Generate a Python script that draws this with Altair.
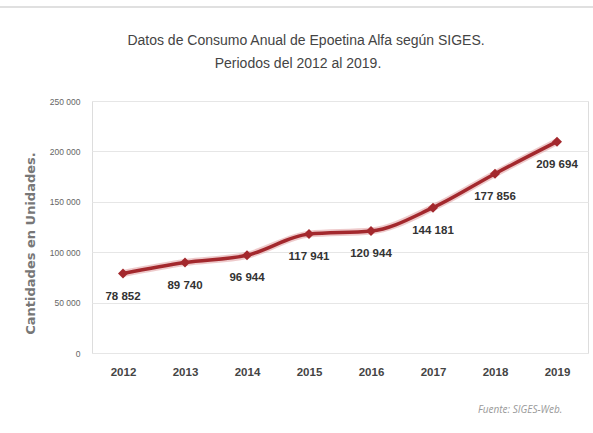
import altair as alt
import pandas as pd

years = ["2012", "2013", "2014", "2015", "2016", "2017", "2018", "2019"]
values = [78852, 89740, 96944, 117941, 120944, 144181, 177856, 209694]
labels = ["78 852", "89 740", "96 944", "117 941", "120 944", "144 181", "177 856", "209 694"]
title_lines = ["Datos de Consumo Anual de Epoetina Alfa según SIGES.", "Periodos del 2012 al 2019."]

df = pd.DataFrame({"year": years, "value": values, "label": labels})

FONT = "Liberation Sans"

x = alt.X("year:O", title=None,
          scale=alt.Scale(type="point", padding=0.5),
          axis=alt.Axis(labelAngle=0, labelFont=FONT, labelFontSize=11.5, labelFontWeight="bold",
                        labelColor="#444444", ticks=False, domain=False, labelPadding=13))
y = alt.Y("value:Q", title="Cantidades en Unidades.",
          scale=alt.Scale(domain=[0, 250000]),
          axis=alt.Axis(values=[0, 50000, 100000, 150000, 200000, 250000],
                        labelExpr="replace(format(datum.value, ','), /,/g, ' ')",
                        labelFont=FONT, labelFontSize=8.5, labelColor="#666666",
                        ticks=False, domain=False, labelPadding=12,
                        gridColor="#e6e6e6", gridWidth=1,
                        titleFont="DejaVu Sans", titleFontSize=13, titleFontWeight="bold",
                        titleColor="#777777", titleX=-55, titleY=142, titleAngle=-90))

base = alt.Chart(df).encode(x=x, y=y)

glow = base.mark_line(color="#d98a8c", strokeWidth=7, opacity=0.45, interpolate="monotone")
line = base.mark_line(color="#a3282d", strokeWidth=3.5, interpolate="monotone")
pts = base.mark_point(shape="diamond", filled=True, color="#a3282d", size=100, opacity=1)
txt = base.mark_text(dy=23, font=FONT, fontSize=11.5, fontWeight="bold", color="#333333").encode(text="label:N")

src = alt.Chart(pd.DataFrame({"t": ["Fuente: SIGES-Web."]})).mark_text(
    align="left", baseline="middle", font="Open Sans", fontSize=10, fontStyle="italic", color="#999999"
).encode(x=alt.value(386), y=alt.value(309), text="t:N")

top = alt.Chart(pd.DataFrame({"a": [0]})).mark_rule(color="#e0e0e0", strokeWidth=2).encode(
    x=alt.value(-92), x2=alt.value(501), y=alt.value(-94))

t1 = alt.Chart(pd.DataFrame({"t": [title_lines[0]]})).mark_text(
    align="center", baseline="alphabetic", font=FONT, fontSize=14, color="#444444"
).encode(x=alt.value(214), y=alt.value(-56), text="t:N")
t2 = alt.Chart(pd.DataFrame({"t": [title_lines[1]]})).mark_text(
    align="center", baseline="alphabetic", font=FONT, fontSize=14, color="#444444"
).encode(x=alt.value(206), y=alt.value(-33), text="t:N")

chart = alt.layer(top, t1, t2, glow, line, pts, txt, src).properties(
    width=496, height=252,
    autosize=alt.AutoSizeParams(type="none"),
    padding={"left": 92, "top": 101, "right": 5, "bottom": 80},
).configure_view(stroke=None).configure(background="white")

chart.save("out.html", embed_options={"renderer": "svg", "actions": False})
